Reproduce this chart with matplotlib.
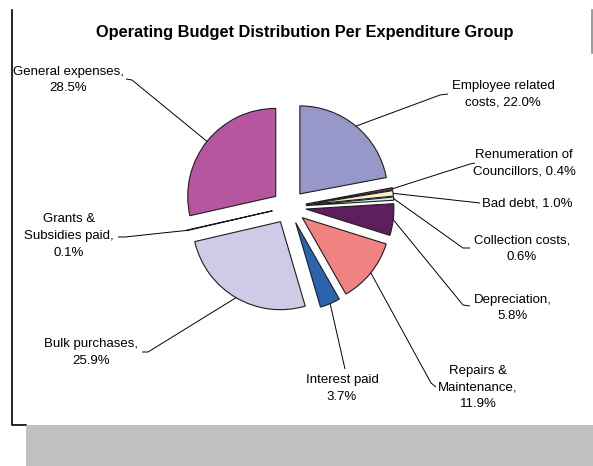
import numpy as np
import matplotlib
matplotlib.use("Agg")
import matplotlib.pyplot as plt
from matplotlib.patches import Rectangle

plt.rcParams["font.family"] = ["Liberation Sans", "DejaVu Sans"]

# Expenditure groups, clockwise from 12 o'clock
categories = [
    "Employee related costs", "Renumeration of Councillors", "Bad debt",
    "Collection costs", "Depreciation", "Repairs & Maintenance",
    "Interest paid", "Bulk purchases", "Grants & Subsidies paid",
    "General expenses",
]
shares = [22.0, 0.4, 1.0, 0.6, 5.8, 11.9, 3.7, 25.9, 0.1, 28.5]
title = "Operating Budget Distribution Per Expenditure Group"

# ---- styling / layout -------------------------------------------------
colors = ["#9797c9", "#933263", "#f7f3c4", "#cbeff2", "#5f1f5f",
          "#f08282", "#2c63ae", "#cdcbe6", "#14146a", "#b6569f"]

# how each category name is broken and joined to its value
name_lines = ["Employee related\ncosts", "Renumeration of\nCouncillors",
              "Bad debt", "Collection costs", "Depreciation",
              "Repairs &\nMaintenance", "Interest paid", "Bulk purchases",
              "Grants &\nSubsidies paid", "General expenses"]
joiners = [", ", ", ", ", ", ",\n", ",\n", ",\n", "\n", ",\n", ",\n", ",\n"]

W, H = 593, 466
fig = plt.figure(figsize=(W / 100, H / 100), dpi=100)
ax = fig.add_axes([0, 0, 1, 1])


def P(x, y):
    """pixel position (origin top-left) -> axes data position"""
    return (x, H - y)


pie_center = P(289, 207)
pie_radius = 88
explode_px = 17

wedges, _ = ax.pie(
    shares, colors=colors, startangle=90, counterclock=False,
    radius=pie_radius, center=pie_center,
    explode=[explode_px] * len(shares),
    wedgeprops=dict(edgecolor="#1e1e1e", linewidth=0.8),
)
ax.set_xlim(0, W)
ax.set_ylim(0, H)
ax.set_aspect("auto")
ax.axis("off")

# label centres and leader-line bends (pixel positions)
label_xy = [(503, 94.5), (524, 163.5), (527, 204), (522, 248.5), (513, 308),
            (478, 387.5), (342, 388.5), (91, 352.5), (69, 236), (68, 80)]
leader_bends = [
    [(440, 95), (448, 94)],
    [(470, 164), (475, 163)],
    [(480, 203)],
    [(463, 248), (470, 248)],
    [(463, 305), (470, 306)],
    [(431, 383), (436, 387)],
    [(345, 369)],
    [(148, 352), (142, 352)],
    [(125, 237), (118, 237)],
    [(132, 80), (126, 79)],
]

for w, name, j, val, (lx, ly), bends in zip(
        wedges, name_lines, joiners, shares, label_xy, leader_bends):
    th = np.deg2rad(0.5 * (w.theta1 + w.theta2))
    cx, cy = w.center
    start = (cx + w.r * np.cos(th), cy + w.r * np.sin(th))
    pts = [start] + [P(*b) for b in bends]
    xs, ys = zip(*pts)
    ax.plot(xs, ys, color="black", lw=0.7, solid_capstyle="butt")
    ax.text(*P(lx, ly), f"{name}{j}{val:.1f}%", ha="center", va="center",
            fontsize=9.5, linespacing=1.5, color="black")

ax.text(*P(305, 33), title, ha="center", va="center",
        fontsize=11.8, fontweight="bold", color="black")

# chart frame remnants and grey strip
ax.plot([12, 12, 26], [H - 10, H - 425, H - 425], color="black", lw=1.2)
ax.plot([592, 592], [H - 10, H - 53], color="#8a8a8a", lw=1.2)
ax.add_patch(Rectangle(P(26, 466), W - 26, 41, facecolor="#c0c0c0",
                       edgecolor="none", zorder=5))

fig.savefig("out.png", dpi=100)
